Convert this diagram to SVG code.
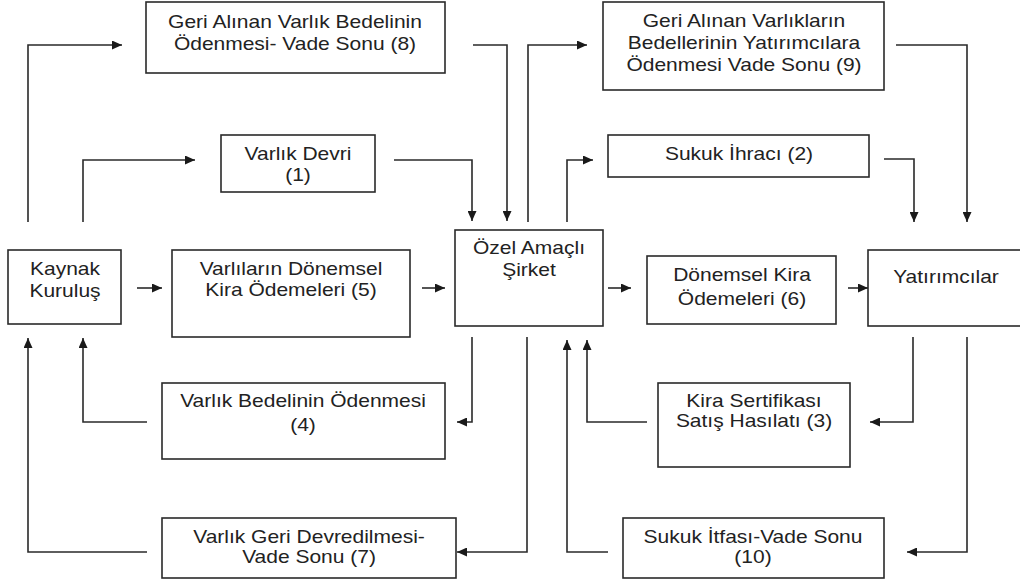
<svg xmlns="http://www.w3.org/2000/svg" width="1020" height="582" viewBox="0 0 1020 582">
  <style>
    .box { fill: #ffffff; stroke: #2a2a2a; stroke-width: 1.6; }
    .lbl { font-family: "Liberation Sans", Arial, sans-serif; font-size: 17.5px; fill: #222222; text-anchor: middle; }
    .wire { fill: none; stroke: #2a2a2a; stroke-width: 1.6; marker-end: url(#head); }
  </style>
  <defs>
    <marker id="head" markerUnits="userSpaceOnUse" markerWidth="11" markerHeight="9" refX="10" refY="4.5" orient="auto">
      <path d="M0,0 L10,4.5 L0,9 z" fill="#1a1a1a"/>
    </marker>
  </defs>
  <rect width="1020" height="582" fill="#ffffff"/>

  <!-- nodes -->
  <g id="n8">
    <rect class="box" x="146" y="2" width="299" height="71"/>
    <text class="lbl" transform="translate(295 0) scale(1.2 1)"><tspan x="0" y="28">Geri Alınan Varlık Bedelinin</tspan><tspan x="0" y="50">Ödenmesi- Vade Sonu (8)</tspan></text>
  </g>
  <g id="n1">
    <rect class="box" x="221" y="135" width="154" height="57"/>
    <text class="lbl" transform="translate(298 0) scale(1.2 1)"><tspan x="0" y="160">Varlık Devri</tspan><tspan x="0" y="181">(1)</tspan></text>
  </g>
  <g id="n9">
    <rect class="box" x="603" y="2" width="281" height="88"/>
    <text class="lbl" transform="translate(744 0) scale(1.2 1)"><tspan x="0" y="27">Geri Alınan Varlıkların</tspan><tspan x="0" y="49">Bedellerinin Yatırımcılara</tspan><tspan x="0" y="71">Ödenmesi Vade Sonu (9)</tspan></text>
  </g>
  <g id="n2">
    <rect class="box" x="608" y="135" width="261" height="42"/>
    <text class="lbl" transform="translate(739 0) scale(1.2 1)"><tspan x="0" y="160">Sukuk İhracı (2)</tspan></text>
  </g>
  <g id="kaynak">
    <rect class="box" x="8" y="250" width="113" height="74"/>
    <text class="lbl" transform="translate(65 0) scale(1.2 1)"><tspan x="0" y="275">Kaynak</tspan><tspan x="0" y="297">Kuruluş</tspan></text>
  </g>
  <g id="n5">
    <rect class="box" x="172" y="250" width="238" height="87"/>
    <text class="lbl" transform="translate(291 0) scale(1.2 1)"><tspan x="0" y="275">Varlıların Dönemsel</tspan><tspan x="0" y="296">Kira Ödemeleri (5)</tspan></text>
  </g>
  <g id="spv">
    <rect class="box" x="455" y="230" width="148" height="96"/>
    <text class="lbl" transform="translate(529 0) scale(1.2 1)"><tspan x="0" y="254">Özel Amaçlı</tspan><tspan x="0" y="276">Şirket</tspan></text>
  </g>
  <g id="n6">
    <rect class="box" x="647" y="256" width="189" height="68"/>
    <text class="lbl" transform="translate(742 0) scale(1.2 1)"><tspan x="0" y="281">Dönemsel Kira</tspan><tspan x="0" y="305">Ödemeleri (6)</tspan></text>
  </g>
  <g id="yatirimcilar">
    <rect class="box" x="868" y="250" width="160" height="76"/>
    <text class="lbl" transform="translate(946 0) scale(1.2 1)"><tspan x="0" y="283">Yatırımcılar</tspan></text>
  </g>
  <g id="n4">
    <rect class="box" x="162" y="383" width="283" height="76"/>
    <text class="lbl" transform="translate(303 0) scale(1.2 1)"><tspan x="0" y="407">Varlık Bedelinin Ödenmesi</tspan><tspan x="0" y="431">(4)</tspan></text>
  </g>
  <g id="n3">
    <rect class="box" x="658" y="383" width="192" height="84"/>
    <text class="lbl" transform="translate(754 0) scale(1.2 1)"><tspan x="0" y="407">Kira Sertifikası</tspan><tspan x="0" y="427">Satış Hasılatı (3)</tspan></text>
  </g>
  <g id="n7">
    <rect class="box" x="162" y="518" width="294" height="60"/>
    <text class="lbl" transform="translate(309 0) scale(1.2 1)"><tspan x="0" y="543">Varlık Geri Devredilmesi-</tspan><tspan x="0" y="563">Vade Sonu (7)</tspan></text>
  </g>
  <g id="n10">
    <rect class="box" x="623" y="518" width="261" height="60"/>
    <text class="lbl" transform="translate(753 0) scale(1.2 1)"><tspan x="0" y="543">Sukuk İtfası-Vade Sonu</tspan><tspan x="0" y="563">(10)</tspan></text>
  </g>

  <!-- connectors -->
  <g id="connectors">
    <path class="wire" d="M28,222 V45 H122"/>
    <path class="wire" d="M83,222 V160 H195"/>
    <path class="wire" d="M473,45 H507 V221"/>
    <path class="wire" d="M394,160 H472 V221"/>
    <path class="wire" d="M528,222 V45 H587"/>
    <path class="wire" d="M567,222 V160 H593"/>
    <path class="wire" d="M896,45 H967 V222"/>
    <path class="wire" d="M884,159 H914 V222"/>
    <path class="wire" d="M137,288 H162"/>
    <path class="wire" d="M422,288 H445"/>
    <path class="wire" d="M608,288 H631"/>
    <path class="wire" d="M848,288 H868"/>
    <path class="wire" d="M472,337 V422 H457"/>
    <path class="wire" d="M147,422 H83 V338"/>
    <path class="wire" d="M147,552 H28 V338"/>
    <path class="wire" d="M527,337 V552 H457"/>
    <path class="wire" d="M913,337 V422 H870"/>
    <path class="wire" d="M647,422 H587 V340"/>
    <path class="wire" d="M608,552 H567 V340"/>
    <path class="wire" d="M967,337 V552 H907"/>
  </g>
</svg>
